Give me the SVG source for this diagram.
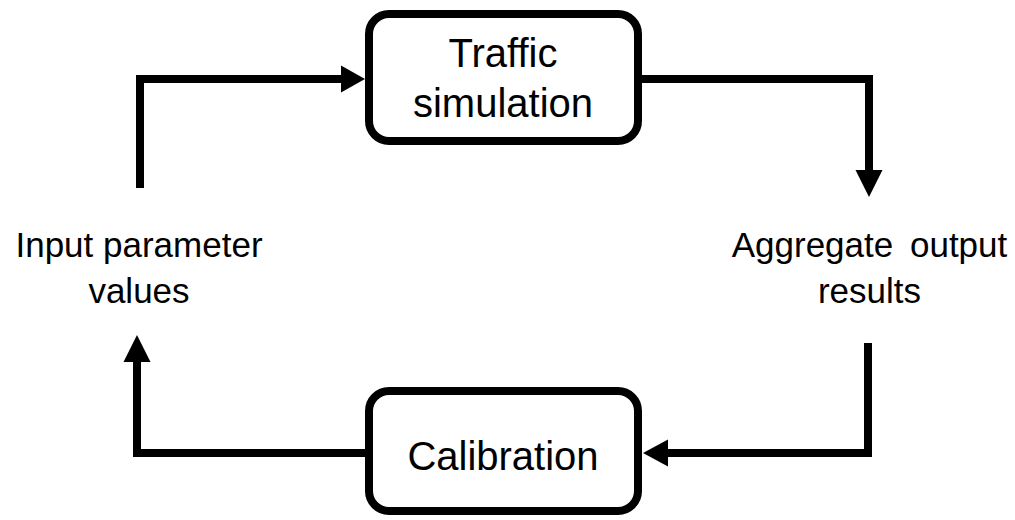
<svg xmlns="http://www.w3.org/2000/svg" width="1015" height="520" viewBox="0 0 1015 520">
  <style>
    .box { fill: #ffffff; stroke: #000000; stroke-width: 8; }
    .wire { fill: none; stroke: #000000; stroke-width: 8; stroke-linejoin: miter; stroke-linecap: butt; }
    .head { fill: #000000; }
    .lbl { font-family: "Liberation Sans", Arial, sans-serif; fill: #000000; text-anchor: middle; }
    .big { font-size: 40px; }
    .mid { font-size: 35px; }
  </style>
  <rect width="1015" height="520" fill="#ffffff"/>

  <!-- connectors of the loop -->
  <g id="connectors">
    <!-- input values up into the simulation box -->
    <polyline class="wire" points="140,188 140,79 343,79"/>
    <polygon class="head" points="365,79 341,65.5 341,92.5"/>
    <!-- simulation box down to output results -->
    <polyline class="wire" points="642,79 869,79 869,172"/>
    <polygon class="head" points="869,197 855.5,170 882.5,170"/>
    <!-- output results into calibration -->
    <polyline class="wire" points="868,343 868,453 666,453"/>
    <polygon class="head" points="643,453 668,439.5 668,466.5"/>
    <!-- calibration back up to input values -->
    <polyline class="wire" points="365,453 137,453 137,360"/>
    <polygon class="head" points="137,335 123.5,362 150.5,362"/>
  </g>

  <g id="traffic-simulation">
    <rect class="box" x="369" y="14" width="269" height="127" rx="20" ry="20"/>
    <text class="lbl big" x="503" y="67">Traffic</text>
    <text class="lbl big" x="503" y="117">simulation</text>
  </g>

  <g id="aggregate-output">
    <text class="lbl mid" x="869.5" y="257" word-spacing="7">Aggregate output</text>
    <text class="lbl mid" x="869.5" y="303">results</text>
  </g>

  <g id="calibration">
    <rect class="box" x="369" y="391" width="269" height="120" rx="20" ry="20"/>
    <text class="lbl big" x="503" y="470">Calibration</text>
  </g>

  <g id="input-parameters">
    <text class="lbl mid" x="139" y="257">Input parameter</text>
    <text class="lbl mid" x="139" y="303">values</text>
  </g>
</svg>
